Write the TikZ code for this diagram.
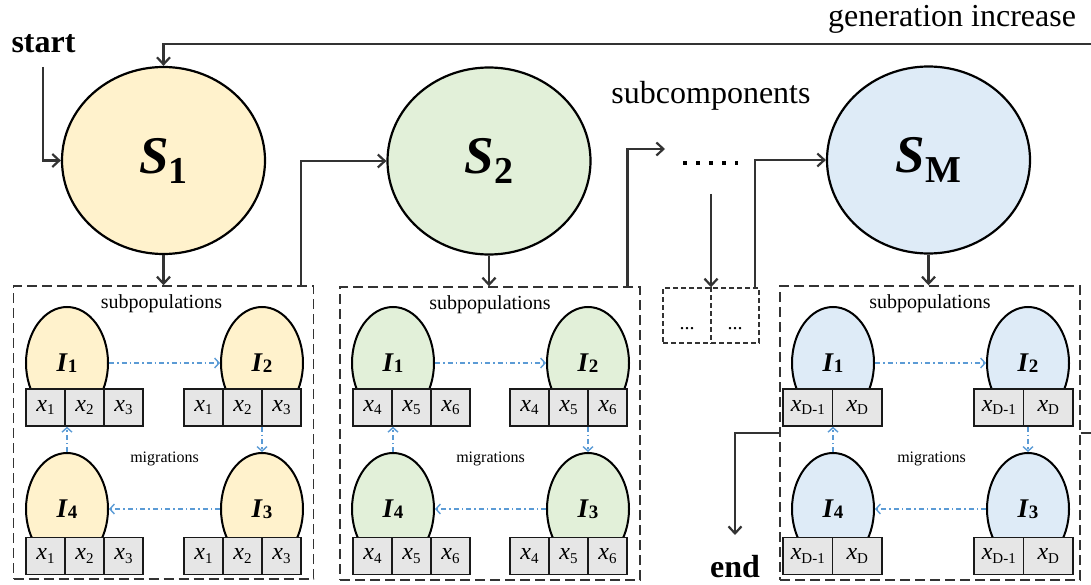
\documentclass[tikz,border=0pt]{standalone}
\usepackage{fontspec}
\setmainfont{Liberation Serif}
\usetikzlibrary{shapes.geometric,arrows.meta,calc}
\definecolor{yel}{HTML}{FFF2CC}
\definecolor{grn}{HTML}{E2F0D9}
\definecolor{blu}{HTML}{DEEBF7}
\definecolor{cellgray}{HTML}{E6E6E6}
\definecolor{conngray}{HTML}{333333}
\definecolor{migblue}{HTML}{5B9BD5}
\newcommand\xs[1]{\textit{x}\raisebox{-0.3ex}{\fontsize{15}{15}\selectfont #1}}
\newcommand\ilab[1]{\textbf{\textit{I}}\raisebox{-1.5pt}{\fontsize{19}{19}\selectfont\bfseries #1}}
\newcommand\slab[1]{\textbf{\textit{S}}\raisebox{-10pt}{\fontsize{38}{38}\selectfont\bfseries #1}}
\newcommand\cellrow[5]{\foreach \lab [count=\k] in {#5}{\node[cell, minimum width=#4] (#1-\k) at ({#2+(\k-0.5)*#4}, #3) {\lab};}}
\tikzset{
  bigS/.style={ellipse, draw=black, line width=2.2pt, minimum width=203pt, minimum height=187pt, inner sep=0pt, font=\fontsize{53}{53}\selectfont},
  subI/.style={ellipse, draw=black, line width=2pt, minimum width=82pt, minimum height=112pt, inner sep=0pt, font=\fontsize{27}{27}\selectfont},
  cell/.style={draw=black!90, fill=cellgray, line width=1.4pt, minimum height=37pt, inner sep=0pt, font=\fontsize{24}{24}\selectfont},
  grp/.style={draw=black!80, line width=1.4pt, dash pattern=on 10pt off 5pt, minimum width=300pt, minimum height=293pt, inner sep=0pt},
  conn/.style={draw=conngray, line width=2.2pt, -{Straight Barb[length=7pt,width=13pt]}},
  plainline/.style={draw=conngray, line width=2.2pt},
  mig/.style={draw=migblue, line width=1.4pt, dash pattern=on 5pt off 3pt on 1.5pt off 3pt, -{Straight Barb[length=4.5pt,width=10pt]}},
  lab/.style={inner sep=0pt, anchor=base},
  big/.style={font=\fontsize{32}{32}\selectfont},
  bigb/.style={font=\fontsize{32}{32}\selectfont\bfseries},
  subp/.style={font=\fontsize{20}{20}\selectfont},
  migt/.style={font=\fontsize{16}{16}\selectfont}
}
\begin{document}
\begin{tikzpicture}[x=1pt,y=-1pt]
\useasboundingbox (0,0) rectangle (1091,585);
% group boxes
\node[grp] (g1) at (163.5,432.5) {};
\node[grp] (g2) at (490,433.5) {};
\node[grp, minimum height=294pt] (gM) at (930,433) {};
\node[grp, dash pattern=on 5pt off 3pt, minimum width=96pt, minimum height=55pt] (sb) at (711,315.5) {};
\draw[draw=black!80, line width=1.4pt, dash pattern=on 5pt off 3pt] (sb.north) -- (sb.south);
\node[lab, subp] (sbt1) at (687,329) {...};
\node[lab, subp] (sbt2) at (735,329) {...};
% big ellipses
\node[bigS, fill=yel] (S1) at (163.5,160.5) {\slab{1}};
\node[bigS, fill=grn] (S2) at (489,161) {\slab{2}};
\node[bigS, fill=blu] (SM) at (928.5,160) {\slab{M}};
% texts
\node[lab, big] (gen) at (952,27) {generation increase};
\node[lab, big] (subc) at (711,104) {subcomponents};
\node[lab, bigb] (start) at (43.5,53) {start};
\node[lab, bigb] (end) at (735,577) {end};
\node[lab, subp] (sp1) at (161.5,308) {subpopulations};
\node[lab, subp] (sp2) at (490,309) {subpopulations};
\node[lab, subp] (spM) at (930,308) {subpopulations};
\node[lab, migt] (mg1) at (164.5,462) {migrations};
\node[lab, migt] (mg2) at (490.5,462) {migrations};
\node[lab, migt] (mgM) at (931.5,462) {migrations};
% dots
\draw[line width=4pt, dash pattern=on 4pt off 9pt] (683,163) -- (738,163);
% box 1
\node[subI, fill=yel] (a1) at (67,363) {\ilab{1}};
\cellrow{a1r}{26}{407.5}{39}{\xs{1},\xs{2},\xs{3}}
\node[subI, fill=yel] (a2) at (262,363) {\ilab{2}};
\cellrow{a2r}{184}{407.5}{39}{\xs{1},\xs{2},\xs{3}}
\node[subI, fill=yel] (a4) at (67,509) {\ilab{4}};
\cellrow{a4r}{26}{556}{39}{\xs{1},\xs{2},\xs{3}}
\node[subI, fill=yel] (a3) at (262,509) {\ilab{3}};
\cellrow{a3r}{184}{556}{39}{\xs{1},\xs{2},\xs{3}}
% box 2
\node[subI, fill=grn] (b1) at (393,363) {\ilab{1}};
\cellrow{b1r}{353}{407.5}{39}{\xs{4},\xs{5},\xs{6}}
\node[subI, fill=grn] (b2) at (588,363) {\ilab{2}};
\cellrow{b2r}{510}{407.5}{39}{\xs{4},\xs{5},\xs{6}}
\node[subI, fill=grn] (b4) at (393,509) {\ilab{4}};
\cellrow{b4r}{353}{556}{39}{\xs{4},\xs{5},\xs{6}}
\node[subI, fill=grn] (b3) at (588,509) {\ilab{3}};
\cellrow{b3r}{510}{556}{39}{\xs{4},\xs{5},\xs{6}}
% box M
\node[subI, fill=blu] (m1) at (833,363) {\ilab{1}};
\cellrow{m1r}{783}{407.5}{49.5}{\xs{D-1},\xs{D}}
\node[subI, fill=blu] (m2) at (1028,363) {\ilab{2}};
\cellrow{m2r}{974}{407.5}{49.5}{\xs{D-1},\xs{D}}
\node[subI, fill=blu] (m4) at (833,509) {\ilab{4}};
\cellrow{m4r}{783}{556}{49.5}{\xs{D-1},\xs{D}}
\node[subI, fill=blu] (m3) at (1028,509) {\ilab{3}};
\cellrow{m3r}{974}{556}{49.5}{\xs{D-1},\xs{D}}
% migrations
\foreach \p in {a,b,m}{
  \draw[mig] (\p1.east) -- (\p2.west);
  \draw[mig] (\p2r-1.south -| \p3.north) -- (\p3.north);
  \draw[mig] (\p3.west) -- (\p4.east);
  \draw[mig] (\p4.north) -- (\p4.north |- \p1r-1.south);
}
% connectors
\coordinate (ginR) at (1091,44);
\draw[conn] (ginR) -| (S1.north);
\coordinate (st) at (43,67);
\draw[conn] (st) |- (S1.west);
\draw[conn] (S1.south) -- (S1.south |- g1.north);
\coordinate (g1o) at (301,286);
\draw[conn] (g1o) |- (S2.west);
\draw[conn] (S2.south) -- (S2.south |- g2.north);
\coordinate (g2o) at (627.5,287);
\coordinate (din) at (665,149);
\draw[conn] (g2o) |- (din);
\coordinate (dout) at (711,194);
\draw[conn] (dout) -- (dout |- sb.north);
\coordinate (sbo) at (755,288);
\draw[conn] (sbo) |- (SM.west);
\draw[conn] (SM.south) -- (SM.south |- gM.north);
\coordinate (endp) at (735,535);
\draw[conn] (gM.west) -| (endp);
\coordinate (rexit) at (1091,433);
\draw[plainline] (gM.east) -- (rexit);
\end{tikzpicture}
\end{document}
